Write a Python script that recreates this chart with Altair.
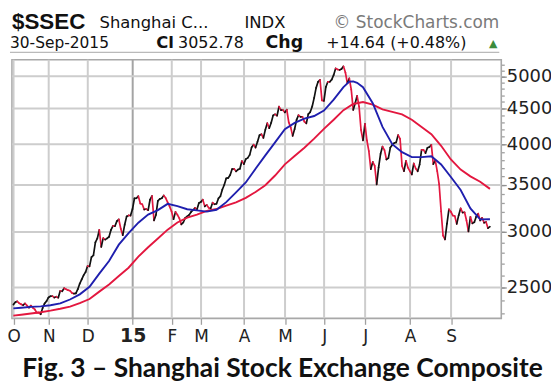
import altair as alt
import pandas as pd
import numpy as np

# ---------------- data ----------------
# daily closes, 30-Sep-2014 .. 30-Sep-2015 (trading days)
closes = [
    2363.87,
    2382.79, 2389.37, 2374.54, 2366.01, 2359.48, 2373.03, 2356.50, 2341.18, 2356.84, 2339.66,
    2326.55, 2302.42, 2302.28, 2290.44, 2337.87, 2373.03, 2391.08, 2420.18,
    2430.03, 2430.68, 2419.25, 2425.86, 2418.17, 2473.67, 2469.67, 2494.48, 2485.61, 2478.82,
    2474.01, 2456.37, 2450.99, 2452.66, 2486.79, 2532.88, 2567.60, 2604.35, 2630.49, 2682.84,
    2680.16, 2763.55, 2779.53, 2899.36, 2937.65, 3020.26, 2856.27, 2940.01, 2925.74, 2938.17,
    2953.42, 3021.52, 3061.02, 3057.52, 3108.60, 3127.45, 3032.61, 2968.17, 3072.54, 3157.60,
    3168.02, 3165.82, 3234.68,
    3350.52, 3351.45, 3373.95, 3293.46, 3285.41, 3229.32, 3235.30, 3222.44, 3336.45, 3376.50,
    3116.35, 3173.05, 3323.61, 3343.34, 3351.76, 3383.18, 3352.96, 3305.74, 3262.30, 3210.36,
    3128.30, 3204.91, 3174.13, 3136.53, 3075.91, 3095.12, 3141.59, 3157.70, 3173.42, 3203.83,
    3222.36, 3246.91, 3228.84, 3298.36, 3310.30,
    3336.28, 3263.05, 3279.53, 3248.48, 3241.19, 3302.41, 3286.07, 3290.90, 3349.32, 3372.91,
    3449.30, 3502.85, 3577.30, 3582.27, 3617.32, 3687.73, 3691.41, 3660.73, 3682.09, 3691.10,
    3786.57, 3747.90,
    3810.29, 3825.78, 3863.93, 3961.38, 3994.81, 3957.53, 4034.31, 4121.71, 4135.56, 4084.16,
    4194.82, 4287.30, 4217.08, 4293.62, 4398.49, 4414.51, 4393.69, 4527.40, 4476.21, 4476.62,
    4441.66,
    4480.46, 4298.71, 4229.27, 4112.21, 4205.92, 4333.58, 4401.22, 4375.76, 4378.31, 4308.69,
    4283.49, 4417.55, 4446.29, 4529.42, 4657.60, 4813.80, 4910.90, 4941.71, 4620.27, 4611.74,
    4828.74, 4910.53, 4909.98, 4947.10, 5023.10, 5131.88, 5113.53, 5106.04, 5121.59, 5166.35,
    5062.99, 4887.43, 4967.90, 4785.36, 4478.36, 4576.49, 4690.15, 4527.78, 4192.87, 4053.03,
    4277.22,
    4053.70, 3912.77, 3686.92, 3775.91, 3727.12, 3507.19, 3709.33, 3877.80, 3970.39, 3924.49,
    3805.70, 3823.18, 3957.35, 3992.11, 4017.67, 4026.04, 4123.92, 4070.91, 3725.56, 3663.00,
    3789.17, 3705.77, 3663.73,
    3622.91, 3756.54, 3694.57, 3661.54, 3744.20, 3928.42, 3927.91, 3886.32, 3954.56, 3965.33,
    3993.67, 3748.16, 3794.11, 3664.29, 3507.74, 3209.91, 2964.97, 2927.29, 3083.59, 3232.35,
    3205.99,
    3166.62, 3160.17, 3080.42, 3170.45, 3243.09, 3197.89, 3200.23, 3114.80, 3005.17, 3152.26,
    3086.06, 3097.92, 3156.54, 3185.62, 3115.89, 3142.69, 3092.35, 3100.76, 3038.14, 3052.78,
]

# first trading day (index into closes) of each month, and its axis label
month_first_idx = [1, 19, 39, 62, 82, 97, 119, 140, 160, 181, 204, 225]
month_labels = ["O", "N", "D", "15", "F", "M", "A", "M", "J", "J", "A", "S"]

# blue moving average (20-day), read at trading-day indices
ma20_idx = [0, 4, 9, 14, 19, 24, 29, 34, 39, 44, 49, 54, 59, 64, 69, 74, 79, 84, 89, 94,
            99, 104, 109, 114, 119, 124, 129, 134, 139, 144, 149, 154, 159, 164, 169, 172,
            174, 176, 179, 184, 189, 194, 199, 204, 209, 214, 219, 224, 229, 234, 239, 244]
ma20_val = [2335, 2340, 2347, 2350, 2359, 2373, 2404, 2445, 2506, 2617, 2728, 2878, 2990,
            3093, 3176, 3223, 3290, 3265, 3233, 3220, 3208, 3227, 3309, 3417, 3529, 3691,
            3857, 4025, 4205, 4291, 4353, 4389, 4468, 4633, 4825, 4913, 4917, 4894, 4824,
            4578, 4236, 4002, 3898, 3835, 3835, 3846, 3744, 3593, 3444, 3242, 3127, 3128]

# red moving average (50-day), read at trading-day indices
ma50_idx = [0, 4, 9, 14, 19, 24, 29, 34, 39, 44, 49, 54, 59, 64, 69, 74, 79, 84, 89, 94,
            99, 104, 109, 114, 119, 124, 129, 134, 139, 144, 149, 154, 159, 164, 169, 174,
            179, 184, 189, 194, 199, 204, 209, 214, 219, 224, 229, 234, 239, 244]
ma50_val = [2280, 2287, 2296, 2306, 2318, 2332, 2348, 2375, 2408, 2467, 2526, 2596, 2668,
            2767, 2853, 2936, 3023, 3095, 3144, 3177, 3215, 3235, 3272, 3307, 3356, 3421,
            3498, 3611, 3745, 3850, 3956, 4075, 4208, 4336, 4474, 4566, 4595, 4557, 4487,
            4450, 4414, 4336, 4234, 4136, 3981, 3806, 3682, 3601, 3538, 3456]

y_major = [2500, 3000, 3500, 4000, 4500, 5000]
y_minor = list(range(2300, 5300, 100))

# ---------------- tables ----------------
n = len(closes)
seg = pd.DataFrame({
    "i0": list(range(n - 1)),
    "i1": list(range(1, n)),
    "c0": closes[:-1],
    "c1": closes[1:],
})
seg["dir"] = np.where(seg["c1"] >= seg["c0"], "up", "down")
ma20 = pd.DataFrame({"idx": ma20_idx, "val": ma20_val})
ma50 = pd.DataFrame({"idx": ma50_idx, "val": ma50_val})

xt = [round(m - 0.9, 1) for m in month_first_idx]
jan_tick = xt[3]
label_expr = "[" + ",".join("'%s'" % s for s in month_labels) + "][indexof([" + \
    ",".join(str(v) for v in xt) + "], datum.value)]"

vgrid_df = pd.DataFrame({"t": xt, "year": [v == jan_tick for v in xt]})
hgrid_df = pd.DataFrame({"v": y_major})

RED = "#e3173f"
BLUE = "#1f1fae"
GRID = "#cdcdcd"
FONT = "DejaVu Sans"

x_scale = alt.Scale(domain=[-0.7, 249.8], nice=False, zero=False)
y_scale = alt.Scale(type="log", domain=[2260, 5279], nice=False)

x_axis = alt.Axis(
    values=xt, labelExpr=label_expr, title=None, orient="bottom",
    domain=False, grid=False,
    ticks=True, tickSize=6, tickColor="#a0a0a0", tickWidth=1.3,
    labelFont=FONT, labelColor="#222222",
    labelFontSize={"expr": "datum.value == %s ? 19 : 17" % jan_tick},
    labelFontWeight={"expr": "datum.value == %s ? 'bold' : 'normal'" % jan_tick},
    labelBaseline="alphabetic", labelPadding=17, labelOverlap=False, labelFlush=False,
)
y_axis = alt.Axis(
    values=y_major, orient="right", title=None, domain=False, grid=False,
    format="d", ticks=True, tickColor="#909090", tickSize=5, tickWidth=1.3,
    labelFont=FONT, labelFontSize=18, labelColor="#222222",
    labelBaseline="middle", labelPadding=0, labelOverlap=False, labelFlush=False,
)
y_minor_axis = alt.Axis(
    values=y_minor, orient="right", title=None, domain=False, grid=False,
    labels=False, ticks=True, tickColor="#a0a0a0", tickSize=3, tickWidth=1.3,
)

# gridlines, drawn through the same scales
vgrid = alt.Chart(vgrid_df).mark_rule(strokeWidth=2).encode(
    x=alt.X("t:Q", scale=x_scale, axis=x_axis),
    color=alt.condition(alt.datum.year, alt.value("#a4a4a4"), alt.value(GRID)),
)
hgrid = alt.Chart(hgrid_df).mark_rule(strokeWidth=2, color=GRID).encode(
    y=alt.Y("v:Q", scale=y_scale, axis=y_minor_axis),
)

price = alt.Chart(seg).mark_rule(strokeWidth=1.7, strokeCap="round", clip=True).encode(
    x=alt.X("i0:Q", scale=x_scale, axis=x_axis),
    x2=alt.X2("i1"),
    y=alt.Y("c0:Q", scale=y_scale, axis=y_axis),
    y2=alt.Y2("c1"),
    color=alt.Color("dir:N", scale=alt.Scale(domain=["up", "down"], range=["#111111", RED]),
                    legend=None),
)

red_ma = alt.Chart(ma50).mark_line(color=RED, strokeWidth=1.9, clip=True).encode(
    x=alt.X("idx:Q", scale=x_scale, axis=x_axis),
    y=alt.Y("val:Q", scale=y_scale, axis=None),
)
blue_ma = alt.Chart(ma20).mark_line(color=BLUE, strokeWidth=1.9, clip=True).encode(
    x=alt.X("idx:Q", scale=x_scale, axis=x_axis),
    y=alt.Y("val:Q", scale=y_scale, axis=None),
)

dummy = pd.DataFrame({"k": [0]})


def label(text, x, y, size, weight="normal", color="#111111", align="left", font=FONT):
    return alt.Chart(dummy).mark_text(
        text=text, font=font, fontSize=size, fontWeight=weight, color=color,
        align=align, baseline="alphabetic",
    ).encode(x=alt.value(x), y=alt.value(y))


header = [
    label("$SSEC", 0, -31, 22.5, "bold", font="Liberation Sans"),
    label("Shanghai C...", 88, -31.5, 16.5),
    label("INDX", 275, -31.5, 16.5, align="right"),
    label("\u00a9 StockCharts.com", 490, -31.5, 17, color="#7a7a7a", align="right"),
    label("30-Sep-2015", -2, -12, 15.5),
    label("Cl", 145, -12, 16.5, "bold"),
    label("3052.78", 167, -12, 16),
    label("Chg", 255, -12, 17.5, "bold"),
    label("+14.64 (+0.48%)", 316, -12, 16),
    label("\u25b2", 484, -13, 11, color="#3c8c3c", align="center"),
    label("Fig. 3 \u2013 Shanghai Stock Exchange Composite", 272, 319, 26.5, "bold",
          align="center", font="Lato"),
]

underline = alt.Chart(dummy).mark_rule(color="#a8a8a8", strokeWidth=1).encode(
    x=alt.value(-2), x2=alt.value(490), y=alt.value(-7.5)
)

chart = alt.layer(vgrid, hgrid, price, red_ma, blue_ma, underline, *header).resolve_axis(
    y="independent"
).properties(
    width=492, height=260,
    autosize=alt.AutoSizeParams(type="none"),
    padding={"left": 4, "top": 51, "right": 50, "bottom": 68},
    background="white",
).configure_view(stroke="#a8a8a8", strokeWidth=1.6)

chart.save("out.html", embed_options={"renderer": "svg", "actions": False})
